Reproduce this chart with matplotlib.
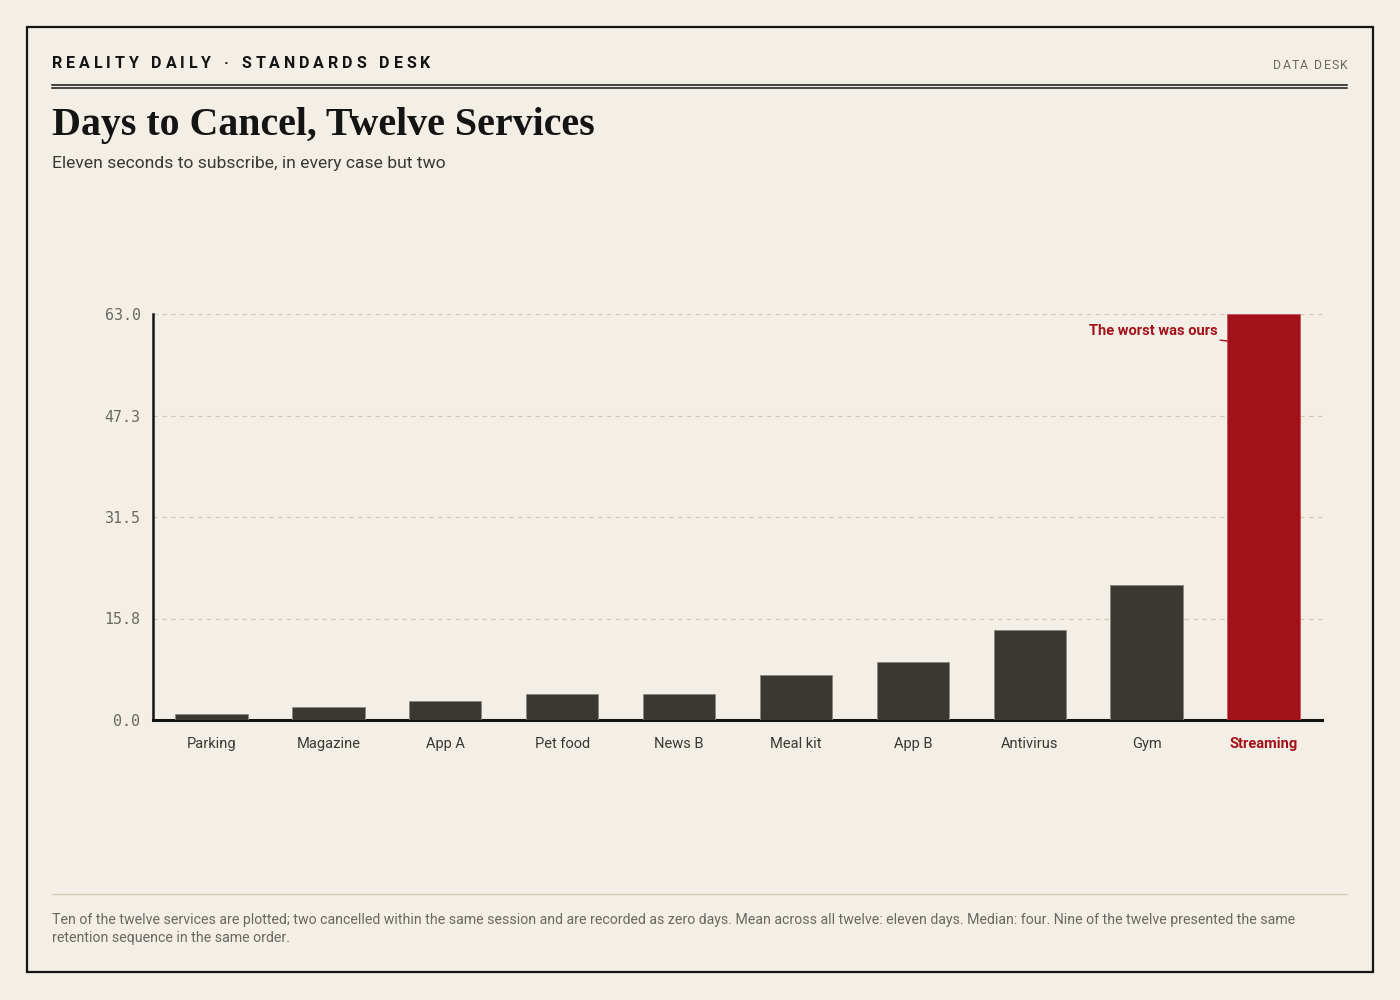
import matplotlib
matplotlib.use("Agg")
import matplotlib.pyplot as plt
from matplotlib.patches import Rectangle
from matplotlib.lines import Line2D

# data
services = ['Parking', 'Magazine', 'App A', 'Pet food', 'News B',
            'Meal kit', 'App B', 'Antivirus', 'Gym', 'Streaming']
days = [1, 2, 3, 4, 4, 7, 9, 14, 21, 63]
highlight = 'Streaming'
y_ticks = [0.0, 15.75, 31.5, 47.25, 63.0]
y_tick_labels = ['0.0', '15.8', '31.5', '47.3', '63.0']

BG = '#f3efe6'
INK = '#3a3833'
RED = '#a3111a'
W, H = 1400, 1000

fig = plt.figure(figsize=(14, 10), dpi=100, facecolor=BG)


def fx(px):
    return px / W


def fy(py):
    return 1 - py / H


def spaced_text(x, y, s, track, **kw):
    # draw string char by char with extra letter spacing (pixels)
    r = fig.canvas.get_renderer()
    cur = x
    for ch in s:
        t = fig.text(fx(cur), fy(y), ch, va='baseline', ha='left', **kw)
        if ch == ' ':
            probe = fig.text(0, 0, 'n', **kw)
            w = probe.get_window_extent(r).width * 0.55
            probe.remove()
        else:
            w = t.get_window_extent(r).width
        cur += w + track
    return cur


# outer frame
fig.add_artist(Rectangle((fx(27), fy(972)), fx(1373) - fx(27), fy(27) - fy(972),
                         transform=fig.transFigure, fill=False, ec='#141414', lw=1.6))

# masthead
spaced_text(52, 68, 'REALITY DAILY · STANDARDS DESK', 3.9,
            family='Roboto', fontsize=11.5, fontweight='bold', color='#141414')
end = 1347
probe = fig.text(0, 0, 'DATA DESK', family='Roboto', fontsize=8.8)
r = fig.canvas.get_renderer()
wd = probe.get_window_extent(r).width + 8 * 1.2
probe.remove()
spaced_text(end - wd, 69, 'DATA DESK', 1.2, family='Roboto', fontsize=8.8, color='#6b6862')

for yy in (84.5, 88):
    fig.add_artist(Line2D([fx(52), fx(1347)], [fy(yy), fy(yy)], transform=fig.transFigure,
                          color='#141414', lw=1.1))

fig.text(fx(52), fy(135), 'Days to Cancel, Twelve Services', family='Liberation Serif',
         fontsize=28.7, fontweight='bold', color='#141414', va='baseline')
fig.text(fx(52), fy(168), 'Eleven seconds to subscribe, in every case but two', family='Roboto',
         fontsize=12.6, color='#3a3833', va='baseline')

# chart
ax = fig.add_axes([fx(153), fy(720), fx(1322) - fx(153), fy(314) - fy(720)])
ax.set_facecolor('none')
x = list(range(len(services)))
colors = [RED if s == highlight else INK for s in services]
ax.bar(x, days, width=0.62, color=colors,
       edgecolor=['#c9545a' if s == highlight else '#8a877f' for s in services],
       linewidth=0.6, zorder=3)
ax.set_xlim(-0.5, len(services) - 0.5)
ax.set_ylim(0, max(days))
ax.set_yticks(y_ticks)
ax.set_yticklabels(y_tick_labels, family='DejaVu Sans Mono', fontsize=10.8, color='#6b6862')
ax.set_xticks(x)
ax.set_xticklabels(services, family='Roboto', fontsize=10.5, color='#3a3833')
for lbl in ax.get_xticklabels():
    if lbl.get_text() == highlight:
        lbl.set_color(RED)
        lbl.set_fontweight('bold')
ax.tick_params(axis='x', length=0, pad=12)
ax.tick_params(axis='y', length=0, pad=9)
ax.grid(axis='y', color='#cdc7b4', linestyle=(0, (4, 4)), lw=0.8, zorder=0)
ax.set_axisbelow(True)
for s in ('top', 'right'):
    ax.spines[s].set_visible(False)
ax.spines['left'].set_linewidth(1.8)
ax.spines['left'].set_color('#141414')
ax.spines['bottom'].set_linewidth(2.2)
ax.spines['bottom'].set_color('#141414')

top = len(services) - 1
ax.annotate('The worst was ours', xy=(top - 0.31, 58.8), xytext=(top - 0.31 - 0.085, 60.3),
            ha='right', va='center', family='Roboto',
            fontsize=10.5, fontweight='bold', color=RED,
            arrowprops=dict(arrowstyle='-', color=RED, lw=1.0, shrinkA=0, shrinkB=0))

# footer
fig.add_artist(Line2D([fx(52), fx(1347)], [fy(894), fy(894)], transform=fig.transFigure,
                      color='#d3ccb8', lw=1.0))
foot_kw = dict(family='Roboto', fontsize=10.2, color='#6b6862', va='baseline')
fig.text(fx(52), fy(924),
         'Ten of the twelve services are plotted; two cancelled within the same session and are recorded '
         'as zero days. Mean across all twelve: eleven days. Median: four. Nine of the twelve presented the same',
         **foot_kw)
fig.text(fx(52), fy(942), 'retention sequence in the same order.', **foot_kw)

fig.savefig('out.png', dpi=100, facecolor=BG)
